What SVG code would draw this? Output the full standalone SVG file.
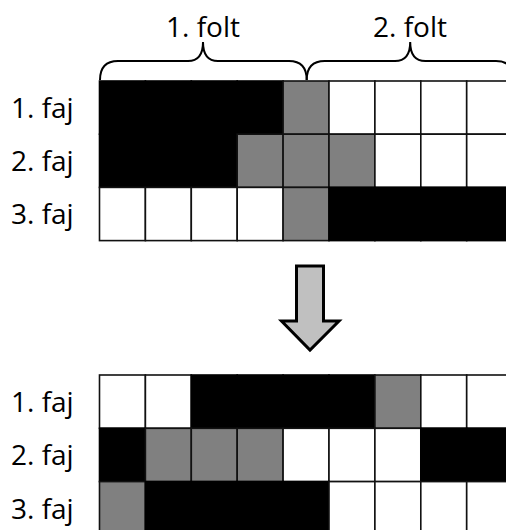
<svg xmlns="http://www.w3.org/2000/svg" width="506" height="530" viewBox="0 0 506 530">
<style>
text{font-family:"Open Sans","Noto Sans","Liberation Sans",sans-serif;font-size:28px;fill:#000}
.k{fill:#000;stroke:#000;stroke-width:1.6}
.g{fill:#808080;stroke:#111;stroke-width:1.6}
.w{fill:#fff;stroke:#111;stroke-width:1.6}
.brace{fill:none;stroke:#000;stroke-width:2}
</style>
<rect width="506" height="530" fill="#fff"/>
<g id="labels-top">
<text x="203" y="37" text-anchor="middle">1. folt</text>
<text x="410" y="37" text-anchor="middle">2. folt</text>
</g>
<g id="braces">
<path class="brace" d="M100,80 C100,68 106,61 118,61 L188,61 C197,61 203,56 203,42 C203,56 209,61 218,61 L289,61 C301,61 306.7,68 306.7,80"/>
<path class="brace" d="M306.7,80 C306.7,68 312.7,61 324.7,61 L395,61 C404,61 410.2,56 410.2,42 C410.2,56 416.4,61 425.4,61 L496,61 C508,61 513.7,68 513.7,80"/>
</g>
<g id="top-row1">
<text x="11" y="118">1. faj</text>
<rect class="k" x="99.5" y="81" width="45.9" height="53.2"/>
<rect class="k" x="145.4" y="81" width="45.9" height="53.2"/>
<rect class="k" x="191.3" y="81" width="45.9" height="53.2"/>
<rect class="k" x="237.2" y="81" width="45.9" height="53.2"/>
<rect class="g" x="283.1" y="81" width="45.9" height="53.2"/>
<rect class="w" x="329" y="81" width="45.9" height="53.2"/>
<rect class="w" x="374.9" y="81" width="45.9" height="53.2"/>
<rect class="w" x="420.8" y="81" width="45.9" height="53.2"/>
<rect class="w" x="466.7" y="81" width="45.9" height="53.2"/>
</g>
<g id="top-row2">
<text x="11" y="171">2. faj</text>
<rect class="k" x="99.5" y="134.2" width="45.9" height="53.2"/>
<rect class="k" x="145.4" y="134.2" width="45.9" height="53.2"/>
<rect class="k" x="191.3" y="134.2" width="45.9" height="53.2"/>
<rect class="g" x="237.2" y="134.2" width="45.9" height="53.2"/>
<rect class="g" x="283.1" y="134.2" width="45.9" height="53.2"/>
<rect class="g" x="329" y="134.2" width="45.9" height="53.2"/>
<rect class="w" x="374.9" y="134.2" width="45.9" height="53.2"/>
<rect class="w" x="420.8" y="134.2" width="45.9" height="53.2"/>
<rect class="w" x="466.7" y="134.2" width="45.9" height="53.2"/>
</g>
<g id="top-row3">
<text x="11" y="224">3. faj</text>
<rect class="w" x="99.5" y="187.4" width="45.9" height="53.2"/>
<rect class="w" x="145.4" y="187.4" width="45.9" height="53.2"/>
<rect class="w" x="191.3" y="187.4" width="45.9" height="53.2"/>
<rect class="w" x="237.2" y="187.4" width="45.9" height="53.2"/>
<rect class="g" x="283.1" y="187.4" width="45.9" height="53.2"/>
<rect class="k" x="329" y="187.4" width="45.9" height="53.2"/>
<rect class="k" x="374.9" y="187.4" width="45.9" height="53.2"/>
<rect class="k" x="420.8" y="187.4" width="45.9" height="53.2"/>
<rect class="k" x="466.7" y="187.4" width="45.9" height="53.2"/>
</g>
<g id="arrow">
<path d="M296.5,266 L323.5,266 L323.5,321 L339,321 L310,350 L281.5,321 L296.5,321 Z" fill="#c0c0c0" stroke="#000" stroke-width="3" stroke-linejoin="miter"/>
</g>
<g id="bottom-row1">
<text x="11" y="412">1. faj</text>
<rect class="w" x="99.5" y="375" width="45.9" height="53.3"/>
<rect class="w" x="145.4" y="375" width="45.9" height="53.3"/>
<rect class="k" x="191.3" y="375" width="45.9" height="53.3"/>
<rect class="k" x="237.2" y="375" width="45.9" height="53.3"/>
<rect class="k" x="283.1" y="375" width="45.9" height="53.3"/>
<rect class="k" x="329" y="375" width="45.9" height="53.3"/>
<rect class="g" x="374.9" y="375" width="45.9" height="53.3"/>
<rect class="w" x="420.8" y="375" width="45.9" height="53.3"/>
<rect class="w" x="466.7" y="375" width="45.9" height="53.3"/>
</g>
<g id="bottom-row2">
<text x="11" y="465">2. faj</text>
<rect class="k" x="99.5" y="428.3" width="45.9" height="53.3"/>
<rect class="g" x="145.4" y="428.3" width="45.9" height="53.3"/>
<rect class="g" x="191.3" y="428.3" width="45.9" height="53.3"/>
<rect class="g" x="237.2" y="428.3" width="45.9" height="53.3"/>
<rect class="w" x="283.1" y="428.3" width="45.9" height="53.3"/>
<rect class="w" x="329" y="428.3" width="45.9" height="53.3"/>
<rect class="w" x="374.9" y="428.3" width="45.9" height="53.3"/>
<rect class="k" x="420.8" y="428.3" width="45.9" height="53.3"/>
<rect class="k" x="466.7" y="428.3" width="45.9" height="53.3"/>
</g>
<g id="bottom-row3">
<text x="11" y="519">3. faj</text>
<rect class="g" x="99.5" y="481.6" width="45.9" height="53.3"/>
<rect class="k" x="145.4" y="481.6" width="45.9" height="53.3"/>
<rect class="k" x="191.3" y="481.6" width="45.9" height="53.3"/>
<rect class="k" x="237.2" y="481.6" width="45.9" height="53.3"/>
<rect class="k" x="283.1" y="481.6" width="45.9" height="53.3"/>
<rect class="w" x="329" y="481.6" width="45.9" height="53.3"/>
<rect class="w" x="374.9" y="481.6" width="45.9" height="53.3"/>
<rect class="w" x="420.8" y="481.6" width="45.9" height="53.3"/>
<rect class="w" x="466.7" y="481.6" width="45.9" height="53.3"/>
</g>
</svg>
